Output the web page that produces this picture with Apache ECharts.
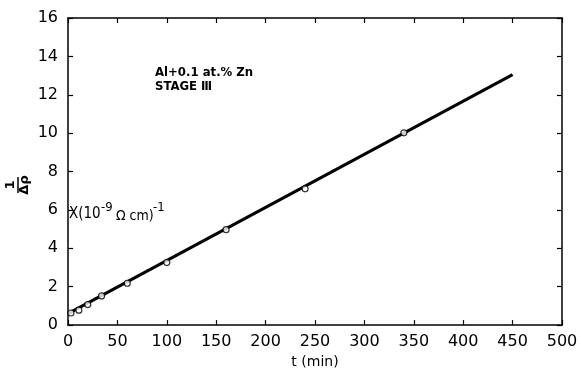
<!DOCTYPE html>
<html><head><meta charset="utf-8">
<script src="https://cdn.jsdelivr.net/npm/echarts@6/dist/echarts.min.js"></script>
<style>html,body{margin:0;padding:0;background:#fff}#c{width:581px;height:374px}</style>
</head><body><div id="c"></div>
<script>
var pointT = [3, 11, 20, 34, 60, 100, 160, 240, 340];
var pointY = [0.63, 0.78, 1.07, 1.52, 2.18, 3.26, 4.97, 7.1, 10.02];
var lineT = [0, 450];
var lineY = [0.6, 13.05];
var xTicks = [0, 50, 100, 150, 200, 250, 300, 350, 400, 450, 500];
var yTicks = [0, 2, 4, 6, 8, 10, 12, 14, 16];

var chart = echarts.init(document.getElementById('c'));
var font = 'DejaVu Sans';
function axisCommon() {
  return {
    axisLine: {show: true, onZero: false, lineStyle: {color: '#000', width: 1.5}},
    axisTick: {show: true, inside: true, length: 5, lineStyle: {color: '#000', width: 1.2}},
    splitLine: {show: false}
  };
}
chart.setOption({
  animation: false,
  backgroundColor: '#fff',
  grid: {left: 68, right: 19, top: 18, bottom: 41},
  xAxis: [
    Object.assign({type: 'value', min: 0, max: 500, interval: 50, position: 'bottom',
      name: 't (min)', nameLocation: 'middle', nameGap: 28,
      nameTextStyle: {fontFamily: font, fontSize: 14, color: '#000'},
      axisLabel: {fontFamily: font, fontSize: 16, color: '#000', margin: 9,
        formatter: function(v){ return xTicks.indexOf(v) >= 0 ? String(v) : ''; }}}, axisCommon()),
    Object.assign({type: 'value', min: 0, max: 500, interval: 50, position: 'top',
      axisLabel: {show: false}}, axisCommon())
  ],
  yAxis: [
    Object.assign({type: 'value', min: 0, max: 16, interval: 2, position: 'left',
      axisLabel: {fontFamily: font, fontSize: 16, color: '#000', margin: 10,
        formatter: function(v){ return yTicks.indexOf(v) >= 0 ? String(v) : ''; }}}, axisCommon()),
    Object.assign({type: 'value', min: 0, max: 16, interval: 2, position: 'right',
      axisLabel: {show: false}}, axisCommon())
  ],
  graphic: [
    {type: 'text', left: 155, top: 66, style: {text: 'Al+0.1 at.% Zn\nSTAGE Ⅲ', font: 'bold 13px "DejaVu Sans Condensed", "DejaVu Sans"', fill: '#000', lineHeight: 14}},
    {type: 'text', left: 69, top: 207, style: {text: 'X(10', font: '15px "DejaVu Sans Condensed", "DejaVu Sans"', fill: '#000'}},
    {type: 'text', left: 101, top: 201, style: {text: '-9', font: '13px "DejaVu Sans Condensed", "DejaVu Sans"', fill: '#000'}},
    {type: 'text', left: 116, top: 209, style: {text: 'Ω cm)', font: '14px "DejaVu Sans Condensed", "DejaVu Sans"', fill: '#000'}},
    {type: 'text', left: 153, top: 201, style: {text: '-1', font: '13px "DejaVu Sans Condensed", "DejaVu Sans"', fill: '#000'}},
    {type: 'group', x: 17, y: 185, rotation: Math.PI / 2, children: [
      {type: 'text', x: 0, y: -6, style: {text: '1', font: 'bold 13px "DejaVu Sans"', fill: '#000', align: 'center', verticalAlign: 'middle'}},
      {type: 'line', shape: {x1: -8, y1: 1, x2: 8, y2: 1}, style: {stroke: '#000', lineWidth: 1.5}},
      {type: 'text', x: 0, y: 8, style: {text: 'Δρ', font: 'bold 13px "DejaVu Sans"', fill: '#000', align: 'center', verticalAlign: 'middle'}}
    ]}
  ],
  series: [
    {type: 'line', data: lineT.map(function(t, i){ return [t, lineY[i]]; }), symbol: 'none',
      lineStyle: {color: '#000', width: 3}, z: 2},
    {type: 'scatter', data: pointT.map(function(t, i){ return [t, pointY[i]]; }), symbol: 'circle', symbolSize: 6,
      itemStyle: {color: '#fff', borderColor: '#000', borderWidth: 1.2}, z: 3}
  ]
});
</script></body></html>
